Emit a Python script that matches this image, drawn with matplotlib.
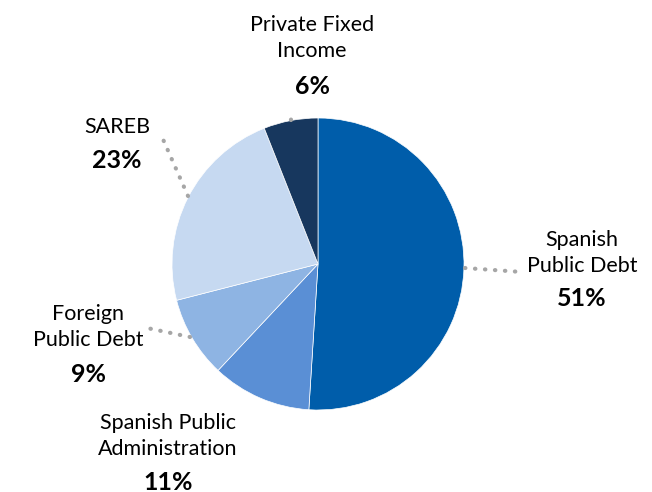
import matplotlib.pyplot as plt

labels = ["Spanish\nPublic Debt", "Spanish Public\nAdministration", "Foreign\nPublic Debt",
          "SAREB", "Private Fixed\nIncome"]
shares = [51, 11, 9, 23, 6]
colors = ["#005DAA", "#5A8FD5", "#8EB4E3", "#C6D9F1", "#17375E"]

# label anchor (pixel coords from top-left): name centre x, name centre y, pct y
label_pos = [(582, 253, 299), (168, 436, 482), (88, 327, 375), (117, 127, 160), (312, 38, 87)]
# leader lines (pixel coords): (x0, y0, x1, y1)
leaders = [(465, 268, 522, 272), (190, 337, 147, 328),
           (188, 196, 162, 137), (291, 120, 291, 111)]

W, H = 652, 492
fig = plt.figure(figsize=(W / 100, H / 100), dpi=100)
ax = fig.add_axes([0, 0, 1, 1])

ax.pie(shares, colors=colors, startangle=90, counterclock=False, center=(318, H - 264),
       radius=146, wedgeprops=dict(edgecolor="white", linewidth=0.5), frame=True)
ax.set_xlim(0, W); ax.set_ylim(0, H); ax.set_aspect("equal"); ax.axis("off")

font = ["Lato", "DejaVu Sans"]
for name, pct, (x, yn, yp) in zip(labels, shares, label_pos):
    ax.text(x, H - yn, name, ha="center", va="center", fontsize=15.5, family=font,
            linespacing=1.4, color="black")
    ax.text(x, H - yp, f"{pct}%", ha="center", va="center", fontsize=18, family=font,
            fontweight="bold", style="normal", color="black")

for x0, y0, x1, y1 in leaders:
    ax.plot([x0, x1], [H - y0, H - y1], color="#A6A6A6", linewidth=3,
            linestyle=(0, (0.1, 2.3)), dash_capstyle="round")

fig.savefig("out.png", dpi=100)
